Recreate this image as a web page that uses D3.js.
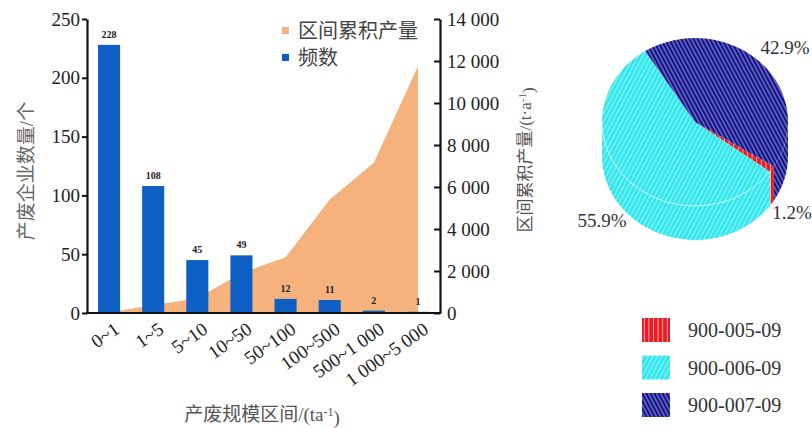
<!DOCTYPE html>
<html>
<head>
<meta charset="utf-8">
<script src="https://cdn.jsdelivr.net/npm/d3@7"></script>
<style>
  body { margin: 0; background: #fff; }
  svg { display: block; }
  .serif { font-family: "Liberation Serif", "DejaVu Serif", serif; }
  .cjk { font-family: "Liberation Serif", "Noto Sans CJK SC", serif; }
</style>
</head>
<body>
<svg id="chart" width="812" height="428"></svg>
<script>
// Size classes of hazardous-waste producers and their statistics
const categories = ["0~1", "1~5", "5~10", "10~50", "50~100", "100~500", "500~1 000", "1 000~5 000"];
const frequency = [228, 108, 45, 49, 12, 11, 2, 1];
const cumulativeOutput = [30, 370, 700, 1900, 2650, 5400, 7150, 11750];
const countTicks = [0, 50, 100, 150, 200, 250];
const outputTicks = [0, 2000, 4000, 6000, 8000, 10000, 12000, 14000];

// Share of each waste code
const wasteCodes = ["900-005-09", "900-006-09", "900-007-09"];
const wasteShares = [1.2, 55.9, 42.9];
const wasteLabels = ["1.2%", "55.9%", "42.9%"];

const svg = d3.select("#chart");

// ---------- combined bar / area chart ----------
const x = d3.scaleBand().domain(categories).range([87, 440]).paddingInner(0.5).paddingOuter(0.25);
const yL = d3.scaleLinear().domain([0, 250]).range([313, 19]);
const yR = d3.scaleLinear().domain([0, 14000]).range([313, 19]);
const cxOf = c => x(c) + x.bandwidth() / 2;

const areaGen = d3.area()
  .x((d, i) => cxOf(categories[i]))
  .y0(yR(0))
  .y1(d => yR(d));

svg.append("path")
  .datum(cumulativeOutput)
  .attr("d", areaGen)
  .attr("fill", "#f6b27d");

svg.append("g").selectAll("rect")
  .data(frequency)
  .join("rect")
  .attr("x", (d, i) => x(categories[i]))
  .attr("y", d => yL(d))
  .attr("width", x.bandwidth())
  .attr("height", d => yL(0) - yL(d))
  .attr("fill", "#0d5fc3");

svg.append("g").selectAll("text")
  .data(frequency)
  .join("text")
  .attr("class", "serif")
  .attr("x", (d, i) => cxOf(categories[i]))
  .attr("y", d => yL(d) - 7)
  .attr("text-anchor", "middle")
  .attr("font-weight", "bold")
  .attr("font-size", 10)
  .attr("fill", "#222")
  .text(d => d);

// left axis
const gL = svg.append("g").attr("transform", "translate(87,0)")
  .call(d3.axisLeft(yL).tickValues(countTicks).tickSizeInner(5).tickSizeOuter(0).tickPadding(2));
// right axis, ticks pointing inward
const fmtThousands = v => d3.format(",")(v).replace(/,/g, " ");
const gR = svg.append("g").attr("transform", "translate(440,0)")
  .call(d3.axisRight(yR).tickValues(outputTicks).tickFormat(fmtThousands)
    .tickSizeInner(-6).tickSizeOuter(0).tickPadding(7));
// bottom axis
const gB = svg.append("g").attr("transform", "translate(0,313)")
  .call(d3.axisBottom(x).tickSize(0).tickSizeOuter(0));

[gL, gR, gB].forEach(g => {
  g.attr("font-family", null).attr("font-size", null);
  g.select(".domain").attr("stroke", "#111").attr("stroke-width", 2.2);
  g.selectAll(".tick line").attr("stroke", "#111").attr("stroke-width", 2);
  g.selectAll("text").attr("class", "serif").attr("font-size", 19).attr("fill", "#222");
});
gB.select(".domain").attr("d", "M86,0H441");
gB.selectAll(".tick text")
  .attr("x", 0).attr("y", 0).attr("dy", "0.71em")
  .attr("text-anchor", "end")
  .attr("transform", "translate(4,8) rotate(-35)");

// axis titles
svg.append("text")
  .attr("class", "cjk")
  .attr("transform", "translate(33,171) rotate(-90)")
  .attr("text-anchor", "middle")
  .attr("font-size", 19).attr("fill", "#666")
  .text("产废企业数量/个");

const rTitle = svg.append("text")
  .attr("class", "cjk")
  .attr("transform", "translate(531,160) rotate(-90)")
  .attr("text-anchor", "middle")
  .attr("font-size", 17).attr("fill", "#555");
rTitle.append("tspan").text("区间累积产量/(t·a");
rTitle.append("tspan").attr("dy", "-0.45em").attr("font-size", 11).text("-1");
rTitle.append("tspan").attr("dy", "0.45em").text(")");

const xTitle = svg.append("text")
  .attr("class", "cjk")
  .attr("x", 262).attr("y", 421)
  .attr("text-anchor", "middle")
  .attr("font-size", 19).attr("fill", "#555");
xTitle.append("tspan").text("产废规模区间/(ta");
xTitle.append("tspan").attr("dy", "-0.45em").attr("font-size", 12).text("-1");
xTitle.append("tspan").attr("dy", "0.45em").text(")");

// legend
const legendItems = [
  { label: "区间累积产量", color: "#f6b27d" },
  { label: "频数", color: "#0d5fc3" }
];
const lg = svg.append("g").selectAll("g")
  .data(legendItems)
  .join("g")
  .attr("transform", (d, i) => `translate(282,${31 + i * 27})`);
lg.append("rect").attr("x", 0).attr("y", -4).attr("width", 7).attr("height", 7).attr("fill", d => d.color);
lg.append("text").attr("class", "cjk").attr("x", 16).attr("y", 0).attr("dy", "0.35em")
  .attr("font-size", 20).attr("fill", "#444")
  .text(d => d.label);

// ---------- 3-D pie of waste codes ----------
const sliceColors = ["#ea1c24", "#2ae6ea", "#10108c"];
const defs = svg.append("defs");
const patternSpec = [
  { id: "hatch0", w: 4.6, rot: 0 },
  { id: "hatch1", w: 4, rot: 28 },
  { id: "hatch2", w: 3.6, rot: -28 }
];
patternSpec.forEach((p, i) => {
  const pat = defs.append("pattern")
    .attr("id", p.id)
    .attr("patternUnits", "userSpaceOnUse")
    .attr("width", p.w).attr("height", 10)
    .attr("patternTransform", `rotate(${p.rot})`);
  pat.append("rect").attr("width", p.w).attr("height", 10).attr("fill", sliceColors[i]);
  pat.append("line").attr("x1", p.w / 2).attr("x2", p.w / 2).attr("y1", 0).attr("y2", 10)
    .attr("stroke", "#fff").attr("stroke-opacity", 0.7).attr("stroke-width", 0.9);
});

const pcx = 695, pcy = 122, prx = 93, pry = 84, depth = 34;
const P = (t, dy = 0) => [pcx + prx * Math.sin(t), pcy - pry * Math.cos(t) + dy];
const start = 122 * Math.PI / 180;
const arcs = d3.pie().sort(null).startAngle(start).endAngle(start + 2 * Math.PI)(wasteShares);

const pie = svg.append("g");
// outer wall, only the front half is visible
arcs.forEach((a, i) => {
  [0, 1].forEach(k => {
    const lo = Math.PI / 2 + 2 * Math.PI * k, hi = 3 * Math.PI / 2 + 2 * Math.PI * k;
    const s = Math.max(a.startAngle, lo), e = Math.min(a.endAngle, hi);
    if (s < e) {
      pie.append("path")
        .attr("d", `M${P(s)}A${prx},${pry} 0 0 1 ${P(e)}L${P(e, depth)}A${prx},${pry} 0 0 0 ${P(s, depth)}Z`)
        .attr("fill", `url(#hatch${i})`);
    }
  });
});
// top face
arcs.forEach((a, i) => {
  const large = a.endAngle - a.startAngle > Math.PI ? 1 : 0;
  pie.append("path")
    .attr("d", `M${pcx},${pcy}L${P(a.startAngle)}A${prx},${pry} 0 ${large} 1 ${P(a.endAngle)}Z`)
    .attr("fill", `url(#hatch${i})`);
});
// faint rim where the top face meets the wall
const rimStart = Math.max(arcs[1].startAngle, Math.PI / 2);
pie.append("path")
  .attr("d", `M${P(rimStart)}A${prx},${pry} 0 0 1 ${P(3 * Math.PI / 2)}`)
  .attr("fill", "none").attr("stroke", "#fff").attr("stroke-opacity", 0.55).attr("stroke-width", 1);

// percentage labels
const labelPos = [[792, 219], [602, 227], [785, 54]];
svg.append("g").selectAll("text")
  .data(wasteLabels)
  .join("text")
  .attr("class", "serif")
  .attr("x", (d, i) => labelPos[i][0])
  .attr("y", (d, i) => labelPos[i][1])
  .attr("text-anchor", "middle")
  .attr("font-size", 19).attr("fill", "#333")
  .text(d => d);

// pie legend
const pl = svg.append("g").selectAll("g")
  .data(wasteCodes)
  .join("g")
  .attr("transform", (d, i) => `translate(642,${318 + i * 37.5})`);
pl.append("rect").attr("width", 28).attr("height", 24).attr("fill", (d, i) => `url(#hatch${i})`);
pl.append("text").attr("class", "serif").attr("x", 46).attr("y", 12).attr("dy", "0.35em")
  .attr("font-size", 20).attr("fill", "#333")
  .text(d => d);
</script>
</body>
</html>
